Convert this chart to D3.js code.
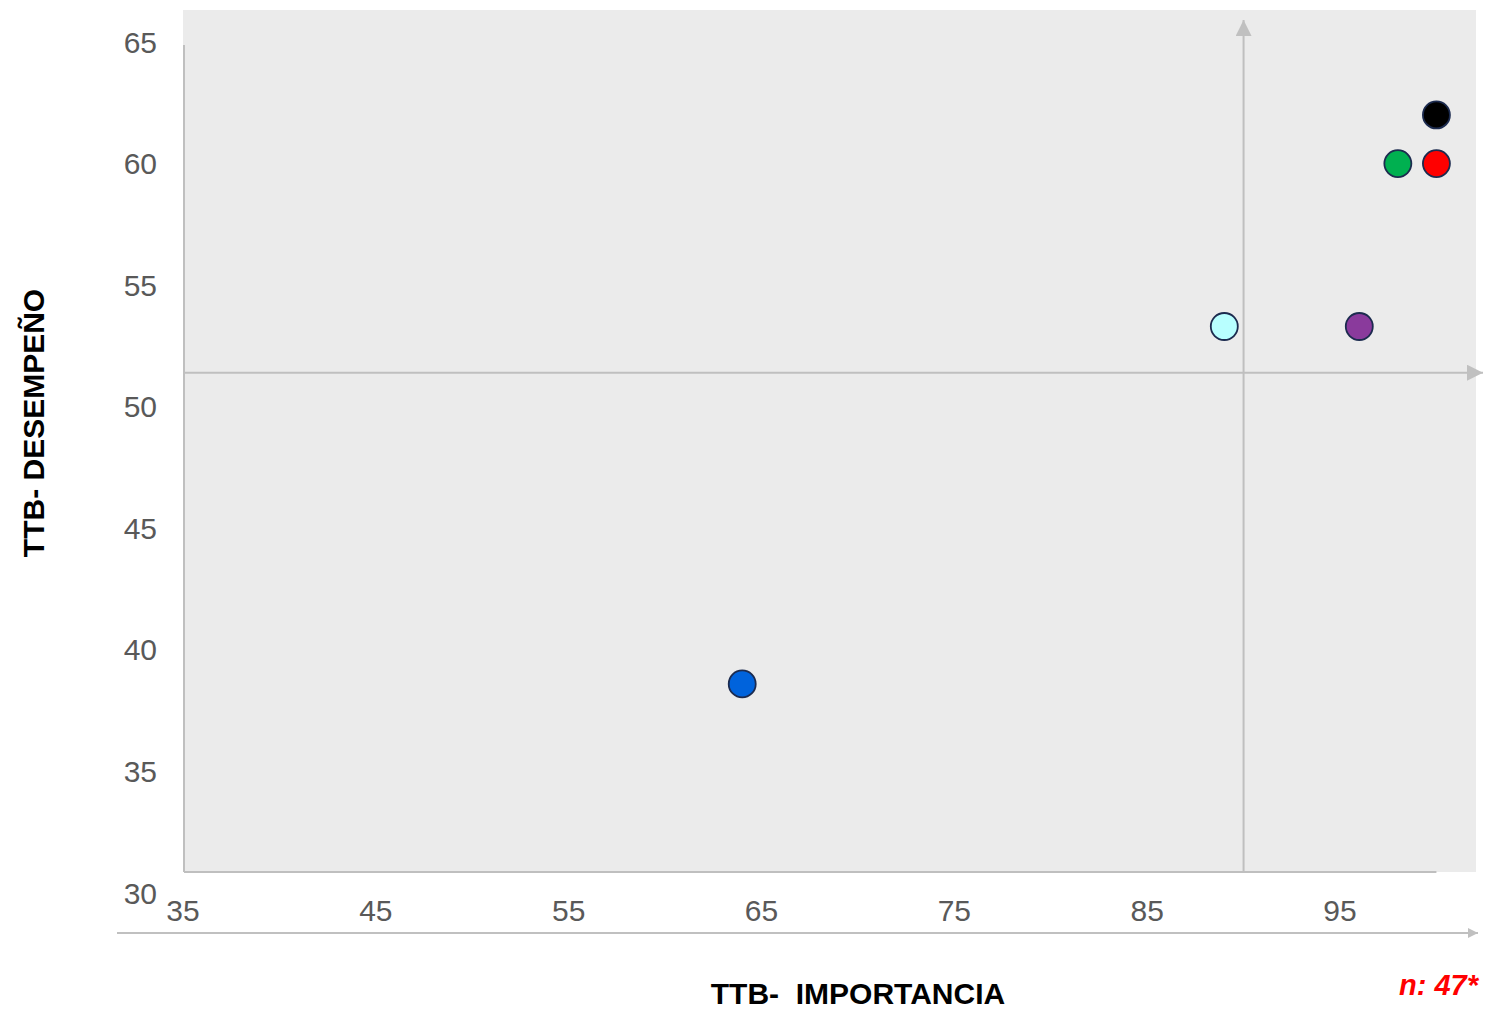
<!DOCTYPE html>
<html>
<head>
<meta charset="utf-8">
<script src="https://cdn.jsdelivr.net/npm/d3@7"></script>
<style>
  body { margin: 0; background: #fff; }
  text { font-family: "Liberation Sans", Arial, sans-serif; }
</style>
</head>
<body>
<div id="chart"></div>
<script>
// data
const importancia = [64, 89, 96, 98, 100, 100];
const desempeno   = [38.6, 53.3, 53.3, 60, 60, 62];
const colores     = ["#0063dc", "#b8ffff", "#8a3a9c", "#00b050", "#ff0000", "#000000"];
const xTicks = [35, 45, 55, 65, 75, 85, 95];
const yTicks = [30, 35, 40, 45, 50, 55, 60, 65];
const cruceX = 90;    // vertical reference line
const cruceY = 51.4;  // horizontal reference line

const W = 1486, H = 1016;
const svg = d3.select("#chart").append("svg").attr("width", W).attr("height", H);

const xScale = d3.scaleLinear().domain([35, 95]).range([183, 1340]);
const yScale = d3.scaleLinear().domain([30, 65]).range([893, 42]);

const plotBottom = 872, plotTop = 10, plotRight = 1476;

// grey plot background
svg.append("rect")
  .attr("x", xScale(35)).attr("y", plotTop)
  .attr("width", plotRight - xScale(35)).attr("height", plotBottom - plotTop)
  .attr("fill", "#ebebeb");

// arrow markers
const defs = svg.append("defs");
defs.append("marker").attr("id", "arr")
  .attr("viewBox", "0 0 10 10").attr("refX", 10).attr("refY", 5)
  .attr("markerWidth", 8).attr("markerHeight", 8).attr("markerUnits", "strokeWidth")
  .attr("orient", "auto")
  .append("path").attr("d", "M0,0 L10,5 L0,10 Z").attr("fill", "#c0c0c0");
defs.append("marker").attr("id", "arrSmall")
  .attr("viewBox", "0 0 10 10").attr("refX", 10).attr("refY", 5)
  .attr("markerWidth", 8).attr("markerHeight", 5).attr("markerUnits", "strokeWidth")
  .attr("orient", "auto")
  .append("path").attr("d", "M0,0 L10,5 L0,10 Z").attr("fill", "#c0c0c0");

// axis lines
svg.append("line")
  .attr("x1", xScale(35) + 1).attr("x2", xScale(35) + 1)
  .attr("y1", yScale(65) + 3).attr("y2", plotBottom)
  .attr("stroke", "#bfbfbf").attr("stroke-width", 2);
svg.append("line")
  .attr("x1", xScale(35) + 1).attr("x2", xScale(100))
  .attr("y1", plotBottom).attr("y2", plotBottom)
  .attr("stroke", "#bfbfbf").attr("stroke-width", 2);

// bottom decorative arrow
svg.append("line")
  .attr("x1", 117).attr("x2", 1478)
  .attr("y1", 933).attr("y2", 933)
  .attr("stroke", "#c0c0c0").attr("stroke-width", 2)
  .attr("marker-end", "url(#arrSmall)");

// crosshair arrows
svg.append("line")
  .attr("x1", xScale(35) + 1).attr("x2", 1483)
  .attr("y1", yScale(cruceY)).attr("y2", yScale(cruceY))
  .attr("stroke", "#bfbfbf").attr("stroke-width", 2)
  .attr("marker-end", "url(#arr)");
svg.append("line")
  .attr("x1", xScale(cruceX)).attr("x2", xScale(cruceX))
  .attr("y1", plotBottom).attr("y2", 20)
  .attr("stroke", "#bfbfbf").attr("stroke-width", 2)
  .attr("marker-end", "url(#arr)");

// tick labels
svg.append("g").selectAll("text").data(yTicks).join("text")
  .attr("x", 157).attr("y", d => yScale(d))
  .attr("dy", "0.35em").attr("text-anchor", "end")
  .attr("font-size", 30).attr("fill", "#595959")
  .text(d => d);

svg.append("g").selectAll("text").data(xTicks).join("text")
  .attr("x", d => xScale(d)).attr("y", 921)
  .attr("text-anchor", "middle")
  .attr("font-size", 30).attr("fill", "#595959")
  .text(d => d);

// points
svg.append("g").selectAll("circle").data(importancia).join("circle")
  .attr("cx", d => xScale(d))
  .attr("cy", (d, i) => yScale(desempeno[i]))
  .attr("r", 13.5)
  .attr("fill", (d, i) => colores[i])
  .attr("stroke", "#1c2b4f").attr("stroke-width", 1.8);

// axis titles
svg.append("text")
  .attr("x", 858).attr("y", 1004)
  .attr("text-anchor", "middle")
  .style("white-space", "pre")
  .attr("font-size", 30).attr("font-weight", "bold").attr("fill", "#000")
  .text("TTB-  IMPORTANCIA");

svg.append("text")
  .attr("transform", "translate(44,423) rotate(-90)")
  .attr("text-anchor", "middle")
  .attr("font-size", 30).attr("font-weight", "bold").attr("fill", "#000")
  .text("TTB- DESEMPEÑO");

// sample size note
svg.append("text")
  .attr("x", 1478).attr("y", 995)
  .attr("text-anchor", "end")
  .attr("font-size", 29).attr("font-weight", "bold").attr("font-style", "italic")
  .attr("fill", "#ff0000")
  .text("n: 47*");
</script>
</body>
</html>
